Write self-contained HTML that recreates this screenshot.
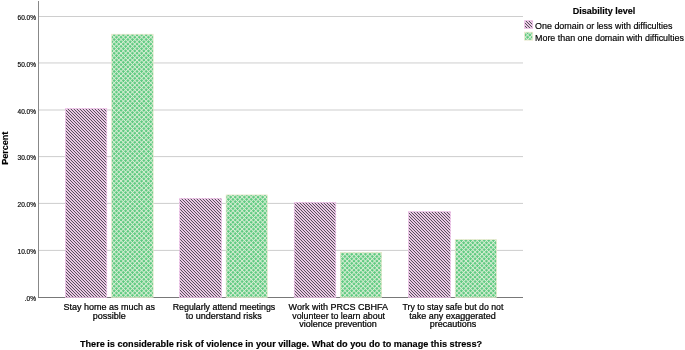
<!DOCTYPE html>
<html><head><meta charset="utf-8">
<style>
html,body{margin:0;padding:0;background:#fff;width:685px;height:350px;overflow:hidden}
svg{display:block;will-change:transform}
body{-webkit-font-smoothing:antialiased}
text{font-family:"Liberation Sans",sans-serif;fill:#000}
.yl{font-size:6.5px;text-anchor:end;fill:#111;stroke:#111;stroke-width:0.18px}
.xl{font-size:9px;text-anchor:middle;fill:#000;stroke:#000;stroke-width:0.22px}
.lg{fill:#000;stroke:#000;stroke-width:0.18px}
.b{font-weight:bold;stroke:#000;stroke-width:0.15px}
</style></head><body>
<svg width="685" height="350" viewBox="0 0 685 350">
<defs>
<pattern id="pp" patternUnits="userSpaceOnUse" width="3" height="3">
<rect width="3" height="3" fill="#f2ceec"/>
<g fill="#58505c" shape-rendering="crispEdges"><rect x="1" y="0" width="1" height="1"/><rect x="2" y="1" width="1" height="1"/><rect x="0" y="2" width="1" height="1"/></g>
<g fill="#e0c0da" shape-rendering="crispEdges"><rect x="0" y="0" width="1" height="1"/><rect x="1" y="1" width="1" height="1"/><rect x="2" y="2" width="1" height="1"/></g>
</pattern>
<pattern id="gp" patternUnits="userSpaceOnUse" width="3.23" height="3.23" patternTransform="rotate(45)">
<rect width="3.23" height="3.23" fill="#5bc97f"/>
<rect width="0.95" height="3.23" fill="#d8eed4"/>
<rect width="3.23" height="0.95" fill="#d8eed4"/>
</pattern>
</defs>
<rect width="685" height="350" fill="#fff"/>
<!-- gridlines -->
<g fill="#cecece">
<rect x="39" y="16.00" width="484" height="1"/>
<rect x="39" y="62.45" width="484" height="1"/>
<rect x="39" y="109.50" width="484" height="1"/>
<rect x="39" y="156.10" width="484" height="1"/>
<rect x="39" y="202.90" width="484" height="1"/>
<rect x="39" y="249.90" width="484" height="1"/>
</g>
<!-- axes -->
<rect x="38" y="1" width="1" height="297" fill="#888"/>
<rect x="38" y="297" width="485" height="1" fill="#787878"/>
<!-- y labels -->
<g class="yl">
<text x="36" y="20">60.0%</text>
<text x="36" y="67">50.0%</text>
<text x="36" y="114">40.0%</text>
<text x="36" y="160">30.0%</text>
<text x="36" y="207">20.0%</text>
<text x="36" y="254">10.0%</text>
<text x="36" y="301">.0%</text>
</g>
<text class="b" font-size="9.6" transform="translate(8.1,148.3) rotate(-90)" text-anchor="middle" textLength="33" lengthAdjust="spacingAndGlyphs">Percent</text>
<!-- bars -->
<g stroke-width="0.65">
<rect x="65.40" y="108.50" width="41.40" height="189.10" fill="url(#pp)" stroke="#f4c6ee"/>
<rect x="111.60" y="34.20" width="41.60" height="263.40" fill="url(#gp)" stroke="#ece8cc"/>
<rect x="179.50" y="198.30" width="42.10" height="99.30" fill="url(#pp)" stroke="#f4c6ee"/>
<rect x="226.10" y="194.90" width="41.20" height="102.70" fill="url(#gp)" stroke="#ece8cc"/>
<rect x="294.20" y="202.30" width="41.60" height="95.30" fill="url(#pp)" stroke="#f4c6ee"/>
<rect x="340.30" y="252.50" width="41.40" height="45.10" fill="url(#gp)" stroke="#ece8cc"/>
<rect x="408.50" y="211.60" width="42.00" height="86.00" fill="url(#pp)" stroke="#f4c6ee"/>
<rect x="455.20" y="239.50" width="41.40" height="58.10" fill="url(#gp)" stroke="#ece8cc"/>
</g>
<!-- x labels -->
<g class="xl">
<text x="109.3" y="309.7">Stay home as much as</text>
<text x="109.3" y="318.6">possible</text>
<text x="224" y="309.7" textLength="102.5" lengthAdjust="spacingAndGlyphs">Regularly attend meetings</text>
<text x="223.75" y="318.6">to understand risks</text>
<text x="338.25" y="309.7">Work with PRCS CBHFA</text>
<text x="338.65" y="318.6" textLength="92.7" lengthAdjust="spacingAndGlyphs">volunteer to learn about</text>
<text x="338" y="327.3">violence prevention</text>
<text x="452.95" y="309.7" textLength="100.8" lengthAdjust="spacingAndGlyphs">Try to stay safe but do not</text>
<text x="452.5" y="318.6">take any exaggerated</text>
<text x="453.05" y="327.3">precautions</text>
</g>
<text class="b" x="281" y="347" font-size="9.15" text-anchor="middle">There is considerable risk of violence in your village. What do you do to manage this stress?</text>
<!-- legend -->
<text class="b" x="604" y="13.7" font-size="9" text-anchor="middle">Disability level</text>
<rect x="524.6" y="20.6" width="8.1" height="7.9" fill="url(#pp)" stroke="#f4c6ee" stroke-width="0.8"/>
<rect x="524.6" y="32.2" width="8.1" height="7.9" fill="url(#gp)" stroke="#ece8cc" stroke-width="0.8"/>
<text class="lg" x="535" y="28.8" font-size="9" textLength="137.5" lengthAdjust="spacingAndGlyphs">One domain or less with difficulties</text>
<text class="lg" x="535" y="40.6" font-size="9" textLength="148.9" lengthAdjust="spacingAndGlyphs">More than one domain with difficulties</text>
</svg>
</body></html>
